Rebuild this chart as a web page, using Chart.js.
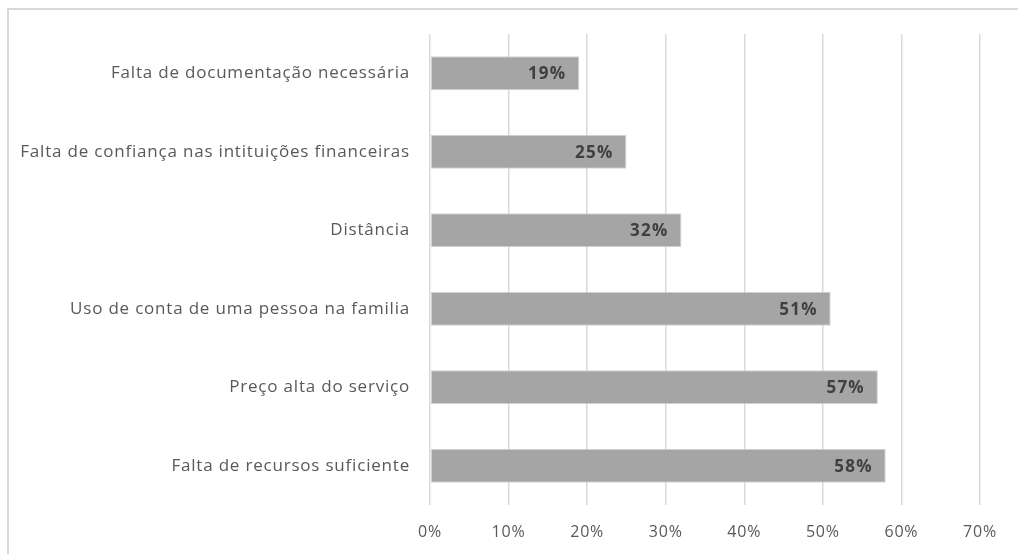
<!DOCTYPE html>
<html>
<head>
<meta charset="utf-8">
<script src="https://cdn.jsdelivr.net/npm/chart.js@4"></script>
<style>
  body { margin: 0; background: #fff; }
  #frame { position: absolute; left: 7px; top: 8px; width: 1100px; height: 600px; border: 2px solid #d9d9d9; }
  #wrap { position: absolute; left: 0; top: 0; width: 1018px; height: 554px; }
</style>
</head>
<body>
<div id="frame"></div>
<div id="wrap"><canvas id="chart"></canvas></div>
<script>
// categorias e valores (%)
const categories = [
  "Falta de documentação necessária",
  "Falta de confiança nas intituições financeiras",
  "Distância",
  "Uso de conta de uma pessoa na familia",
  "Preço alta do serviço",
  "Falta de recursos suficiente"
];
const values = [19, 25, 32, 51, 57, 58];
const tickValues = [0, 10, 20, 30, 40, 50, 60, 70];

const FONT = "Open Sans";

// espaçamento entre letras (fonte original é mais larga)
const spacing = {
  id: "spacing",
  beforeDraw(chart) { chart.ctx.letterSpacing = "0.8px"; }
};

// rótulos de valor dentro da barra
const barLabels = {
  id: "barLabels",
  afterDatasetsDraw(chart) {
    const ctx = chart.ctx;
    const meta = chart.getDatasetMeta(0);
    ctx.save();
    ctx.letterSpacing = "1.2px";
    ctx.font = "bold 17px " + FONT;
    ctx.fillStyle = "#404040";
    ctx.textAlign = "right";
    ctx.textBaseline = "middle";
    meta.data.forEach((bar, i) => {
      ctx.fillText(values[i] + "%", bar.x - 13, bar.y + 1);
    });
    ctx.restore();
  }
};

new Chart(document.getElementById("chart"), {
  type: "bar",
  data: {
    labels: categories,
    datasets: [{
      data: values,
      backgroundColor: "#a5a5a5",
      borderColor: "#d4d4d4",
      borderWidth: 1,
      borderSkipped: false,
      categoryPercentage: 1,
      barPercentage: 0.43
    }]
  },
  options: {
    indexAxis: "y",
    responsive: true,
    maintainAspectRatio: false,
    animation: false,
    layout: { padding: { top: 34, right: 38, bottom: 0, left: 0 } },
    plugins: { legend: { display: false }, tooltip: { enabled: false } },
    scales: {
      x: {
        min: 0,
        max: 70,
        afterBuildTicks: (scale) => { scale.ticks = tickValues.map(v => ({ value: v })); },
        afterFit: (scale) => { scale.height = 49; },
        border: { display: false },
        grid: { color: "#d9d9d9", lineWidth: 1.5, drawTicks: false },
        ticks: {
          padding: 18,
          color: "#595959",
          font: { family: FONT, size: 16 },
          callback: (v) => v + "%"
        }
      },
      y: {
        afterFit: (scale) => { scale.width = 430; },
        border: { display: false },
        grid: { display: false, drawTicks: false },
        ticks: {
          padding: 20,
          color: "#595959",
          font: { family: FONT, size: 17 }
        }
      }
    }
  },
  plugins: [spacing, barLabels]
});
</script>
</body>
</html>
